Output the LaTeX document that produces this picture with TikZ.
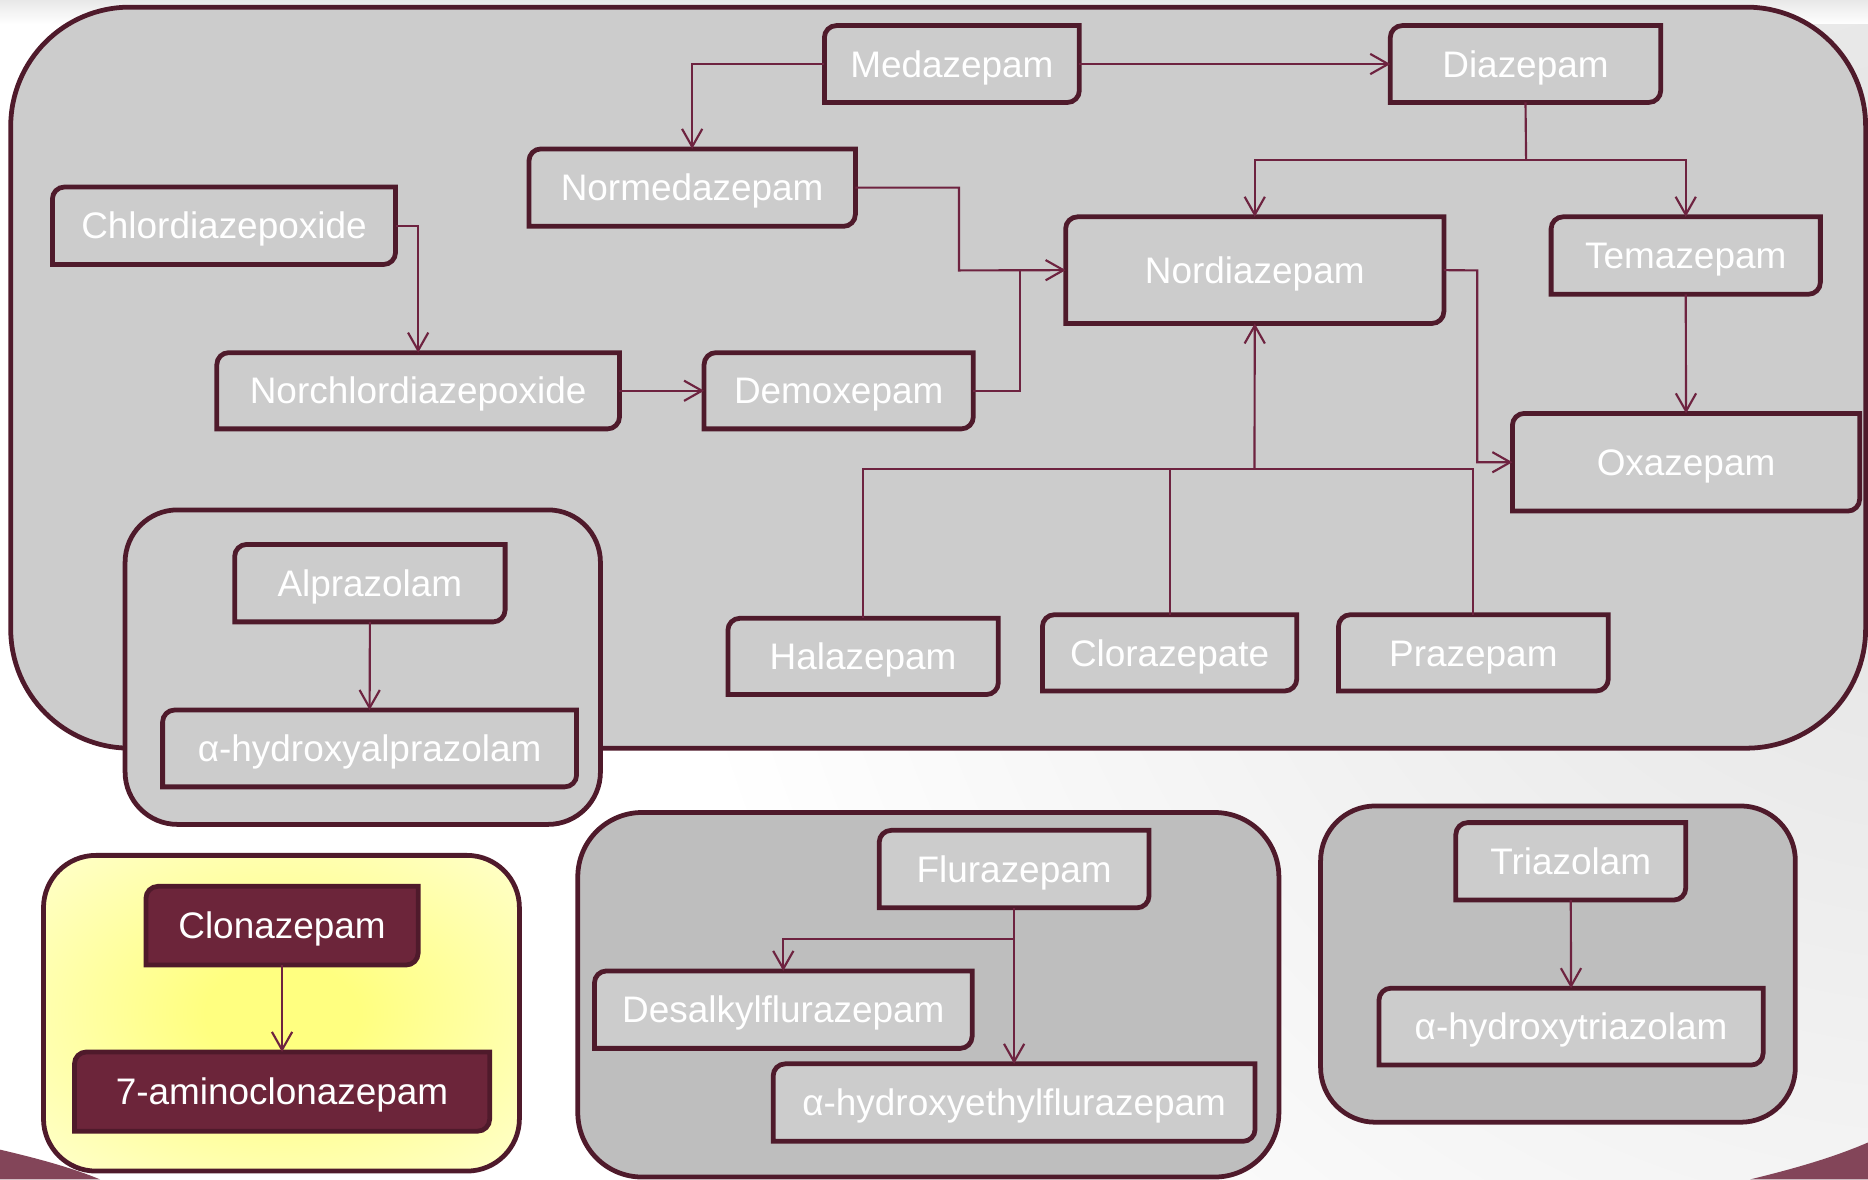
\documentclass[tikz,border=0pt]{standalone}
\usepackage{fontspec}
\setmainfont{Liberation Sans}
\usetikzlibrary{arrows.meta}

\definecolor{boxline}{HTML}{4F1A2B}
\definecolor{linkred}{HTML}{6E2340}
\definecolor{boxgray}{HTML}{CCCCCC}
\definecolor{groupgray}{HTML}{BEBEBE}
\definecolor{clonred}{HTML}{6C253A}
\definecolor{swoosh}{HTML}{834559}
\definecolor{glow}{HTML}{FFFF80}
\definecolor{paleyellow}{HTML}{FFFFD2}

\pgfdeclareradialshading{clonglow}{\pgfpoint{0bp}{0bp}}{color(0bp)=(glow); color(8bp)=(glow); color(38bp)=(paleyellow); color(50bp)=(paleyellow)}

% box with rounded top-left and bottom-right corners: [style]{name}{left}{top}{right}{bottom}{text}
\newcommand{\drugbox}[7][drug]{%
  \path[#1] (#3,#4+10) .. controls (#3,#4+4.5) and (#3+4.5,#4) .. (#3+10,#4) -- (#5,#4)
    -- (#5,#6-10) .. controls (#5,#6-4.5) and (#5-4.5,#6) .. (#5-10,#6) -- (#3,#6) -- cycle;
  \node[drugtext, minimum width={(#5-#3)*0.5pt}, minimum height={(#6-#4)*0.5pt}] (#2) at ({(#3+#5)/2},{(#4+#6)/2}) {#7};
}

\begin{document}
\begin{tikzpicture}[x=0.5pt, y=-0.5pt,
  drug/.style={fill=boxgray, draw=boxline, line width=2pt},
  clon/.style={fill=clonred, draw=boxline, line width=2pt},
  drugtext/.style={text=white, font=\fontsize{15.5}{18}\selectfont, inner sep=0pt, outer sep=0pt, text height=11.1pt, text depth=0pt},
  group/.style={draw=boxline, line width=2pt, fill=boxgray},
  link/.style={draw=linkred, line width=0.9pt},
  >={Straight Barb[length=7.5pt,width=8.5pt]}]
\useasboundingbox (0,0) rectangle (1568,990);

% background
\begin{scope}
\clip (0,0) rectangle (1568,990);
\fill[white] (0,0) rectangle (1568,990);
\shade[inner color=black!12, outer color=white] (1640,300) circle (1100);
\shade[top color=black!9, bottom color=white] (0,0) rectangle (1568,20);
\fill[swoosh] (0,965) .. controls (30,972) and (60,980) .. (84,990) -- (0,990) -- cycle;
\fill[swoosh] (1469,990) .. controls (1510,980) and (1540,971) .. (1568,959) -- (1568,990) -- cycle;
\end{scope}

% groups
\draw[group, rounded corners=50pt] (9,6) rectangle (1566,628);
\draw[group, rounded corners=22pt] (105,428) rectangle (504,692);
\path[draw=boxline, line width=2pt, shade, shading=clonglow, rounded corners=22pt] (36.5,718) rectangle (436,983);
\draw[group, fill=groupgray, rounded corners=27pt] (485,682) rectangle (1073.5,988);
\draw[group, fill=groupgray, rounded corners=23pt] (1108.5,676.5) rectangle (1507,942);

% boxes
\drugbox{med}{692}{21.5}{906}{86}{Medazepam}
\drugbox{dia}{1167}{21.5}{1394}{86}{Diazepam}
\drugbox{nmed}{444}{125}{718}{190}{Normedazepam}
\drugbox{chl}{44}{157}{332}{222}{Chlordiazepoxide}
\drugbox{nchl}{182}{296}{520}{360}{Norchlordiazepoxide}
\drugbox{demox}{591}{296}{817}{360}{Demoxepam}
\drugbox{ndia}{894.5}{182}{1212}{271.5}{Nordiazepam}
\drugbox{tema}{1302}{182}{1528}{247}{Temazepam}
\drugbox{oxa}{1269.5}{347}{1561}{429}{Oxazepam}
\drugbox{hala}{611}{519}{838}{583}{Halazepam}
\drugbox{clor}{875}{516}{1088.5}{580}{Clorazepate}
\drugbox{praz}{1123.5}{516}{1350}{580}{Prazepam}
\drugbox{alp}{197}{457}{424}{522}{Alprazolam}
\drugbox{halp}{136.5}{596}{484}{660.5}{α-hydroxyalprazolam}
\drugbox[clon]{clon}{122.5}{744}{351}{810}{Clonazepam}
\drugbox[clon]{amino}{62.5}{883}{411}{949.5}{7-aminoclonazepam}
\drugbox{flu}{738}{697}{964.5}{762}{Flurazepam}
\drugbox{desal}{499}{815}{816}{880}{Desalkylflurazepam}
\drugbox{hefl}{649}{893}{1053.5}{958}{α-hydroxyethylflurazepam}
\drugbox{tri}{1222}{690.5}{1415}{755.5}{Triazolam}
\drugbox{htri}{1157.5}{829.5}{1480}{894}{α-hydroxytriazolam}

% junctions
\coordinate (j1) at (805,227);
\coordinate (j2) at (856,227);
\coordinate (j3) at (1281,134);
\coordinate (j4) at (1240,227);
\coordinate (j5) at (1053,394);
\coordinate (j6) at (851,788);

% links
\path[link,->] (med.east) -- (dia.west);
\path[link,->] (med.west) -| (nmed.north);
\path[link,->] (chl.east) -| (nchl.north);
\path[link,->] (nchl.east) -- (demox.west);
\path[link,->] (nmed.east) -| (j1) -- (ndia.west);
\path[link] (demox.east) -| (j2);
\path[link] (dia.south) -- (j3);
\path[link,->] (j3) -| (ndia.north);
\path[link,->] (j3) -| (tema.north);
\path[link,->] (ndia.east) -- (j4) |- (oxa.west);
\path[link,->] (tema.south) -- (oxa.north);
\path[link] (hala.north) |- (j5);
\path[link] (clor.north) |- (j5);
\path[link] (praz.north) |- (j5);
\path[link,->] (j5) -- (ndia.south);
\path[link,->] (alp.south) -- (halp.north);
\path[link,->] (clon.south) -- (amino.north);
\path[link,->] (flu.south) -- (hefl.north);
\path[link,->] (j6) -| (desal.north);
\path[link,->] (tri.south) -- (htri.north);
\end{tikzpicture}
\end{document}
